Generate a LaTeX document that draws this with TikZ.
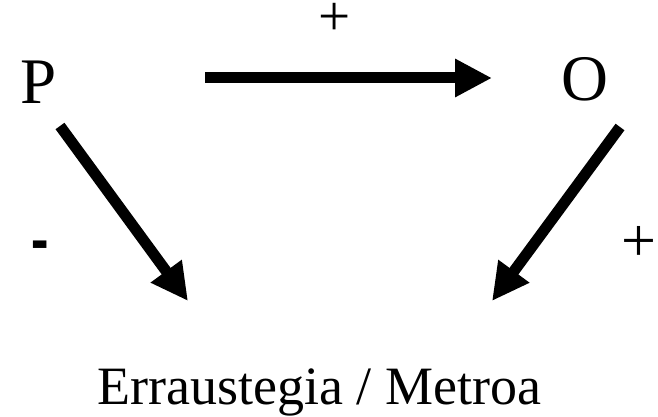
\documentclass[tikz,border=0pt]{standalone}
\usepackage{fontspec}
\usepackage{graphicx}
\setmainfont{Liberation Serif}
\usetikzlibrary{arrows.meta}
\begin{document}
\begin{tikzpicture}[x=1pt,y=-1pt,
  lbl/.style={inner sep=0pt, anchor=base},
  big/.style={font=\fontsize{65}{70}\selectfont},
  arr/.style={line width=11pt, -{Triangle[length=37pt,width=36pt]}}]
\useasboundingbox (0,0) rectangle (658,417);
\node[lbl,big] (P) at (38.5,103) {P};
\node[lbl,big] (O) at (584.5,101) {O};
\node[lbl,font=\fontsize{54}{60}\selectfont] (E) at (319,404) {Erraustegia / Metroa};
\node[lbl,font=\fontsize{57}{60}\selectfont] (plustop) at (334.5,36) {+};
\node[lbl,font=\fontsize{62}{66}\selectfont] (plusright) at (638.5,261) {+};
\node[lbl,font=\fontsize{52}{60}\selectfont\bfseries] (minus) at (40.5,265) {\scalebox{1}[1.7]{-}};
\coordinate (hS) at (205,78);
\coordinate (hE) at (492,78);
\coordinate (lS) at (60,126);
\coordinate (lE) at (188,301);
\coordinate (rS) at (620,127);
\coordinate (rE) at (492,301);
\draw[arr] (hS) -- (hE);
\draw[arr] (lS) -- (lE);
\draw[arr] (rS) -- (rE);
\end{tikzpicture}
\end{document}
